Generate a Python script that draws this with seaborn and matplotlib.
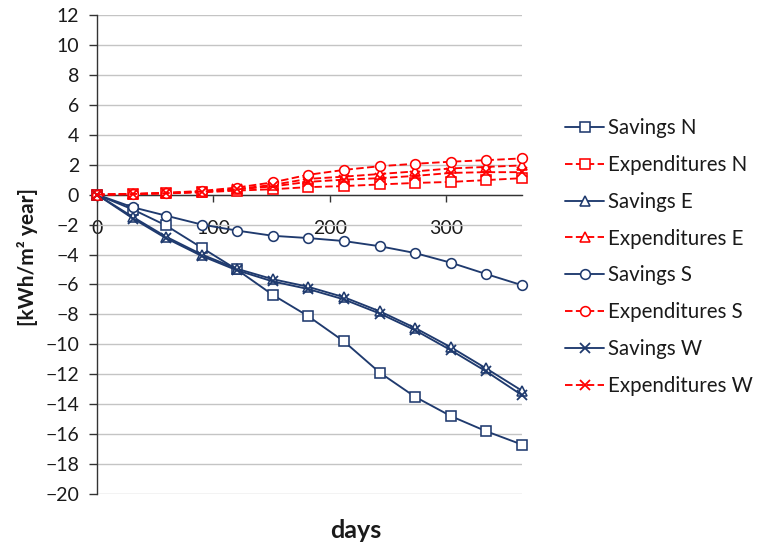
import matplotlib
matplotlib.use("Agg")
import matplotlib.pyplot as plt
import pandas as pd
import seaborn as sns

# Cumulative day of year at the end of each month
days = [0, 31, 59, 90, 120, 151, 181, 212, 243, 273, 304, 334, 365]

# Cumulative energy balance per orientation [kWh/m2 year]
savings_n = [0, -1.0, -2.05, -3.55, -5.0, -6.7, -8.1, -9.8, -11.9, -13.5, -14.8, -15.8, -16.7]
expend_n = [0, 0.03, 0.08, 0.15, 0.27, 0.36, 0.5, 0.57, 0.68, 0.78, 0.85, 0.97, 1.1]
savings_e = [0, -1.5, -2.8, -4.0, -4.95, -5.65, -6.15, -6.85, -7.8, -8.9, -10.2, -11.6, -13.1]
expend_e = [0, 0.04, 0.1, 0.2, 0.38, 0.65, 1.05, 1.2, 1.38, 1.55, 1.75, 1.85, 1.95]
savings_s = [0, -0.85, -1.4, -2.0, -2.4, -2.75, -2.9, -3.1, -3.45, -3.9, -4.55, -5.3, -6.05]
expend_s = [0, 0.05, 0.12, 0.25, 0.47, 0.82, 1.32, 1.65, 1.9, 2.06, 2.2, 2.3, 2.42]
savings_w = [0, -1.6, -2.9, -4.1, -5.05, -5.8, -6.3, -7.0, -7.95, -9.05, -10.4, -11.8, -13.4]
expend_w = [0, 0.04, 0.1, 0.2, 0.35, 0.55, 0.85, 1.0, 1.1, 1.25, 1.45, 1.5, 1.5]

labels = ["Savings N", "Expenditures N", "Savings E", "Expenditures E",
          "Savings S", "Expenditures S", "Savings W", "Expenditures W"]
values = [savings_n, expend_n, savings_e, expend_e,
          savings_s, expend_s, savings_w, expend_w]

NAVY = "#1F3A6E"
RED = "#FF0000"
markers = ["s", "s", "^", "^", "o", "o", "x", "x"]

sns.set_theme(style="white")
plt.rcParams["font.family"] = ["Lato", "DejaVu Sans"]

fig = plt.figure(figsize=(7.6, 5.45), dpi=100)
ax = fig.add_axes([97 / 760, 1 - 494 / 545, (522 - 97) / 760, (494 - 15) / 545])

for i, (label, vals) in enumerate(zip(labels, values)):
    savings = label.startswith("Savings")
    color = NAVY if savings else RED
    frame = pd.DataFrame({"days": days, "value": vals})
    sns.lineplot(
        data=frame, x="days", y="value", ax=ax,
        color=color,
        linestyle="-" if savings else (0, (4, 1.8)),
        linewidth=1.35,
        marker=markers[i],
        markersize=7,
        markerfacecolor="white",
        markeredgecolor=color,
        markeredgewidth=1.3 if markers[i] == "x" else 1.15,
        label=label,
        clip_on=False,
        zorder=3 + i,
    )

ax.set_xlim(0, 365)
ax.set_ylim(-20, 12)
ax.set_xticks([0, 100, 200, 300])
ax.set_yticks(range(-20, 13, 2))
ax.set_xlabel("")
ax.set_ylabel("")

ax.grid(axis="y", color="#C4C4C4", linewidth=1.0)
ax.grid(axis="x", visible=False)
ax.set_axisbelow(True)

for side in ("top", "right"):
    ax.spines[side].set_visible(False)
ax.spines["bottom"].set_position(("data", 0))
for side in ("left", "bottom"):
    ax.spines[side].set_color("#333333")
    ax.spines[side].set_linewidth(1.0)
    ax.spines[side].set_zorder(2.5)

ax.tick_params(axis="x", direction="out", length=5, width=1, color="#333333",
               pad=13, labelsize=14, labelcolor="#1a1a1a", bottom=True)
ax.tick_params(axis="y", direction="out", length=6, width=1, color="#333333",
               pad=7, labelsize=14, labelcolor="#1a1a1a", left=True)

fig.text(28 / 760, 1 - 257.5 / 545, "[kWh/m² year]", rotation=90,
         ha="center", va="center", fontsize=15, fontweight="bold", color="#1a1a1a")
fig.text(356 / 760, 1 - 531 / 545, "days", ha="center", va="center",
         fontsize=18, fontweight="bold", color="#1a1a1a")

handles, leg_labels = ax.get_legend_handles_labels()
ax.legend(handles, leg_labels, loc="upper left",
          bbox_to_anchor=(565 / 760, 1 - 118 / 545), bbox_transform=fig.transFigure,
          frameon=False, fontsize=14.8, handlelength=1.9, handletextpad=0.18,
          labelspacing=0.82, borderpad=0, borderaxespad=0, labelcolor="#1a1a1a")

fig.savefig("out.png", dpi=100, facecolor="white")
